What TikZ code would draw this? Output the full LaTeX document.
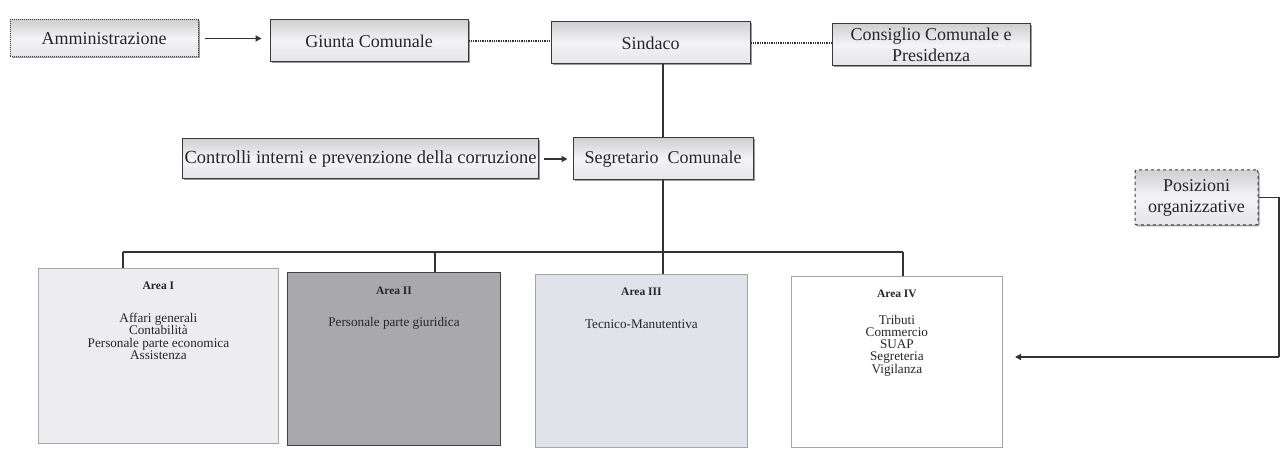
\documentclass[tikz,border=0pt]{standalone}
\usepackage{fontspec}
\setmainfont{Liberation Serif}
\usetikzlibrary{shadows,arrows.meta}
\definecolor{boxfill}{HTML}{E4E4E9}
\definecolor{boxline}{HTML}{3A3A3A}
\definecolor{areaone}{HTML}{ECECF1}
\definecolor{areatwo}{HTML}{A9A9AB}
\definecolor{areathree}{HTML}{E2E2EA}
\begin{document}
\begin{tikzpicture}[x=1pt,y=-1pt,
  topbox/.style={draw=boxline, line width=1pt, top color=boxfill!80!gray, bottom color=boxfill, middle color=white!60!boxfill,
    drop shadow={shadow xshift=1.5pt, shadow yshift=-1.5pt, opacity=0.55, fill=black!70},
    inner sep=2pt, align=center, text=black!85, font=\fontsize{18}{20.5}\selectfont},
  areabox/.style={draw=gray!70, line width=0.8pt, inner sep=0pt, anchor=north west, text=black!85},
  conn/.style={draw=black!80, line width=1.4pt},
  dotconn/.style={draw=black!80, line width=1.3pt, densely dotted},
  arr/.style={draw=black!80, line width=1.4pt, -{Triangle[length=6pt,width=6pt]}}
]
\fill[white] (0,0) rectangle (1280,449);
\useasboundingbox (0,0) rectangle (1280,449);

% top row
\node[topbox, densely dotted, minimum width=188pt, minimum height=37pt] (amm) at (104,38.5) {Amministrazione};
\node[topbox, minimum width=198pt, minimum height=42pt] (giu) at (369,41) {Giunta Comunale};
\node[topbox, minimum width=199pt, minimum height=42pt] (sin) at (650.5,43) {Sindaco};
\node[topbox, minimum width=198pt, minimum height=42pt] (con) at (931,45) {Consiglio Comunale e\\Presidenza};

% second row
\node[topbox, minimum width=355pt, minimum height=40pt, font=\fontsize{18.5}{20}\selectfont] (ctr) at (360.5,159) {Controlli interni e prevenzione della corruzione};
\node[topbox, minimum width=180pt, minimum height=42pt] (seg) at (663,159) {Segretario\ \ Comunale};

% posizioni
\node[topbox, dashed, minimum width=123pt, minimum height=55pt, rounded corners=2pt, font=\fontsize{18}{21}\selectfont] (pos) at (1196.5,197.5) {Posizioni\\organizzative};

% areas
\node[areabox, fill=areaone] (a1) at (38,268) {\parbox[t][175pt][t]{240pt}{\centering\vspace{14pt}%
  {\fontsize{11.5}{12}\selectfont\bfseries Area I}\par\vspace{20pt}
  \fontsize{13.2}{12.5}\selectfont Affari generali\\Contabilità\\Personale parte economica\\Assistenza}};
\node[areabox, fill=areatwo, draw=black!75, line width=1pt] (a2) at (287,272) {\parbox[t][173pt][t]{213pt}{\centering\vspace{14pt}%
  {\fontsize{11.5}{12}\selectfont\bfseries Area II}\par\vspace{20pt}
  \fontsize{13.2}{12.5}\selectfont Personale parte giuridica}};
\node[areabox, fill=areathree] (a3) at (535,274) {\parbox[t][173pt][t]{212pt}{\centering\vspace{14pt}%
  {\fontsize{11.5}{12}\selectfont\bfseries Area III}\par\vspace{20pt}
  \fontsize{13.2}{12.5}\selectfont Tecnico-Manutentiva}};
\node[areabox, fill=white] (a4) at (791,276) {\parbox[t][171pt][t]{211pt}{\centering\vspace{14pt}%
  {\fontsize{11.5}{12}\selectfont\bfseries Area IV}\par\vspace{15pt}
  \fontsize{13.2}{11.8}\selectfont Tributi\\Commercio\\SUAP\\Segreteria\\Vigilanza}};

% connectors
\draw[arr, shorten <=6pt, shorten >=8pt] (amm.east) -- (amm.east -| giu.west);
\draw[dotconn] (giu.east) -- (giu.east -| sin.west);
\draw[dotconn] (sin.east) -- (sin.east -| con.west);
\draw[conn] (seg.north |- sin.south) -- (seg.north);
\draw[arr, shorten <=5pt, shorten >=5pt] (ctr.east) -- (ctr.east -| seg.west);

\coordinate (bus) at (663,252);
\coordinate (b1) at (123,252);
\coordinate (b2) at (435,252);
\coordinate (b4) at (903,252);
\draw[conn] (seg.south) -- (bus) -- (bus |- a3.north);
\draw[conn] (b1) -- (b4);
\draw[conn] (b1) -- (b1 |- a1.north);
\draw[conn] (b2) -- (b2 |- a2.north);
\draw[conn] (b4) -- (b4 |- a4.north);

\coordinate (p1) at (1279,197.5);
\coordinate (p2) at (1279,357);
\coordinate (p3) at (1015,357);
\draw[conn] (pos.east) -- (p1) -- (p2);
\draw[arr] (p2) -- (p3);
\end{tikzpicture}
\end{document}
